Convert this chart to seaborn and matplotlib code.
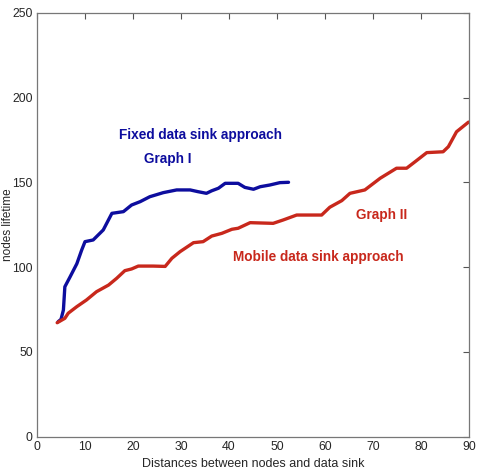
import numpy as np
import pandas as pd
import matplotlib
matplotlib.use("Agg")
import matplotlib.pyplot as plt
import seaborn as sns

# Graph I - fixed data sink approach
fixed_x = [4.4, 5.0, 5.5, 5.8, 6.9, 8.3, 9.3, 10.0, 11.7, 13.8, 15.6, 18.0, 19.7,
           21.5, 23.5, 26.3, 29.1, 31.9, 33.5, 35.3, 36.4, 37.8, 39.2, 41.9, 43.3,
           45.1, 46.5, 48.5, 50.6, 52.4]
fixed_y = [67.8, 69.2, 74.7, 88.4, 94.3, 102.0, 110.0, 115.0, 116.0, 121.9, 131.7,
           132.7, 136.6, 138.6, 141.5, 143.9, 145.5, 145.5, 144.5, 143.5, 145.0,
           146.5, 149.4, 149.4, 147.0, 145.9, 147.4, 148.4, 149.8, 150.0]

# Graph II - mobile data sink approach
mobile_x = [4.2, 5.8, 6.5, 8.3, 10.3, 12.4, 14.9, 16.6, 18.3, 19.7, 21.1, 24.2,
            26.7, 28.1, 29.8, 32.6, 34.6, 36.4, 38.5, 40.6, 41.9, 44.4, 49.2, 51.3,
            54.1, 59.3, 61.0, 63.5, 65.2, 68.3, 71.5, 74.9, 77.0, 78.75, 81.2,
            84.6, 85.7, 87.4, 89.9]
mobile_y = [67.2, 69.8, 72.8, 76.7, 80.6, 85.5, 89.4, 93.4, 97.9, 98.9, 100.6,
            100.6, 100.4, 105.2, 109.1, 114.4, 115.0, 118.3, 119.9, 122.3, 122.9,
            126.2, 125.8, 127.8, 130.7, 130.7, 135.3, 139.2, 143.5, 145.5, 152.4,
            158.3, 158.3, 162.1, 167.5, 168.0, 171.0, 179.8, 185.5]

x_ticks = [0, 10, 20, 30, 40, 50, 60, 70, 80, 90]
y_ticks = [0, 50, 100, 150, 200, 250]

blue = "#0d0d9e"
red = "#c8281c"

sns.set_style("white")
plt.rcParams["font.family"] = ["Liberation Sans", "DejaVu Sans"]

fig = plt.figure(figsize=(4.8, 4.74), dpi=100)
ax = fig.add_axes([0.0771, 0.0787, 0.9, 0.8945])

df_fixed = pd.DataFrame({"x": fixed_x, "y": fixed_y})
df_mobile = pd.DataFrame({"x": mobile_x, "y": mobile_y})
sns.lineplot(data=df_fixed, x="x", y="y", color=blue, linewidth=2.4, ax=ax,
             sort=False, estimator=None)
sns.lineplot(data=df_mobile, x="x", y="y", color=red, linewidth=2.4, ax=ax,
             sort=False, estimator=None)

ax.set_xlim(0, 90)
ax.set_ylim(0, 250)
ax.set_xticks(x_ticks)
ax.set_yticks(y_ticks)
ax.tick_params(direction="in", length=4, width=0.8, color="#555555",
               top=True, right=True, labelsize=8.8, pad=3)
for s in ax.spines.values():
    s.set_color("#777777")
    s.set_linewidth(0.9)

ax.set_xlabel("Distances between nodes and data sink", fontsize=9, labelpad=4)
ax.set_ylabel("nodes lifetime", fontsize=8.5)
ax.yaxis.set_label_coords(-0.053, 0.5)

txt = dict(fontweight="bold", fontsize=9.8, ha="center", va="center")
ax.text(34.0, 178, "Fixed data sink approach", color=blue, **txt)
ax.text(27.2, 163.7, "Graph I", color=blue, **txt)
ax.text(71.8, 130.7, "Graph II", color=red, **txt)
ax.text(58.6, 106, "Mobile data sink approach", color=red, **txt)

fig.savefig("out.png", dpi=100)
